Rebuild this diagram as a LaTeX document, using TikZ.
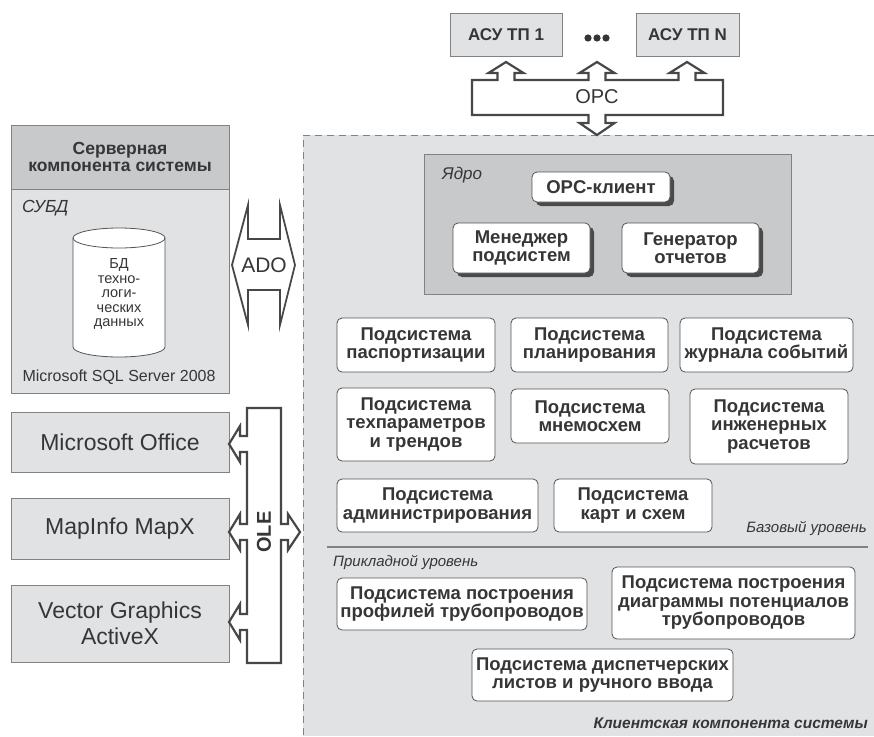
\documentclass[tikz,border=0pt]{standalone}
\usepackage{fontspec}
\setmainfont{Liberation Sans}
\usetikzlibrary{shadows}
\definecolor{ink}{HTML}{363636}
\definecolor{panelgray}{HTML}{E1E2E4}
\definecolor{coregray}{HTML}{C8C9CB}
\definecolor{edgegray}{HTML}{828282}
\definecolor{busgray}{HTML}{474747}
\definecolor{shadegray}{HTML}{4A4A4A}

\tikzset{
  subbox/.style={draw=ink!85, fill=white, rounded corners=5pt, align=center, text=ink,
    font=\fontsize{18.5}{18.5}\selectfont\bfseries, inner sep=0pt, line width=0.8pt},
  corebox/.style={subbox, drop shadow={shadow xshift=4pt, shadow yshift=-4pt, fill=shadegray, opacity=1}},
  graybox/.style={draw=edgegray, fill=panelgray, align=center, text=ink, inner sep=0pt, line width=0.9pt},
  appbox/.style={graybox, minimum width=218pt, font=\fontsize{23}{26}\selectfont},
  tag/.style={text=ink, font=\fontsize{15}{15}\selectfont\itshape, inner sep=0pt},
  bus/.style={draw=busgray, fill=white, line width=2.2pt, line join=miter},
}

\begin{document}
\begin{tikzpicture}[x=1pt,y=-1pt]
\useasboundingbox (0,0) rectangle (874,736);

% client panel
\fill[panelgray] (303,135) rectangle (874,736);
\draw[edgegray, line width=0.9pt, dash pattern=on 7pt off 5pt] (874,135) -- (303,135) -- (303,736);

% plants on top
\node[graybox, minimum width=112pt, minimum height=43pt, font=\fontsize{17}{18}\selectfont\bfseries] (asu1) at (506,34.5) {АСУ ТП 1};
\node[graybox, minimum width=103pt, minimum height=43pt, font=\fontsize{17}{18}\selectfont\bfseries] (asuN) at (687.5,34.5) {АСУ ТП N};
\fill[ink] (588,38) circle (3.6) (597,38) circle (3.6) (606,38) circle (3.6);

% OPC bus
\path[bus] (472,80) -- (497.5,80) -- (497.5,73) -- (488.5,73) -- (506,62) -- (523.5,73) -- (514.5,73) -- (514.5,80)
  -- (588.5,80) -- (588.5,73) -- (579.5,73) -- (597,62) -- (614.5,73) -- (605.5,73) -- (605.5,80)
  -- (678.5,80) -- (678.5,73) -- (669.5,73) -- (687,62) -- (704.5,73) -- (695.5,73) -- (695.5,80)
  -- (723,80) -- (723,115) -- (605.5,115) -- (605.5,123) -- (614.5,123) -- (597,135) -- (579.5,123)
  -- (588.5,123) -- (588.5,115) -- (472,115) -- cycle;
\node[text=ink, font=\fontsize{20}{20}\selectfont] (opc) at (597,97) {OPC};

% server side
\node[graybox, fill=coregray, minimum width=218pt, minimum height=64pt, font=\fontsize{17.5}{17.5}\selectfont\bfseries] (srvhead) at (120,157) {Серверная\\компонента системы};
\node[graybox, minimum width=218pt, minimum height=204pt] (srvbody) at (120,291) {};
\node[tag, anchor=west, font=\fontsize{17.5}{18}\selectfont\itshape] (dbms) at (22,208) {СУБД};
\filldraw[fill=white, draw=ink!85, line width=0.8pt] (73,238) -- (73,347) arc[start angle=180, end angle=0, x radius=46, y radius=10]
  -- (165,238) arc[start angle=0, end angle=-180, x radius=46, y radius=10] -- cycle;
\draw[ink!85, line width=0.8pt] (165,238) arc[start angle=0, end angle=180, x radius=46, y radius=10];
\node[text=ink, align=center, font=\fontsize{14.5}{14.5}\selectfont] (dbdata) at (119,294) {БД\\техно-\\логи-\\ческих\\данных};
\node[text=ink, font=\fontsize{16}{16}\selectfont] (sqlsrv) at (119,377) {Microsoft SQL Server 2008};

% ADO link
\path[bus, line width=1.8pt] (232,265) -- (248,205) -- (248,239) -- (280,239) -- (280,205) -- (295,265)
  -- (280,325) -- (280,290) -- (248,290) -- (248,325) -- cycle;
\node[text=ink, font=\fontsize{21}{21}\selectfont] (ado) at (264,265) {ADO};

% external components
\node[appbox, minimum height=60pt] (msoff) at (120,442) {Microsoft Office};
\node[appbox, minimum height=61pt] (mapx) at (120,528.5) {MapInfo MapX};
\node[appbox, minimum height=77pt] (vgax) at (120,623.5) {Vector Graphics\\ActiveX};

% OLE bus
\path[bus] (247,408) -- (281,408) -- (281,524) -- (288,524) -- (288,514) -- (300,532) -- (288,550) -- (288,540)
  -- (281,540) -- (281,663) -- (247,663) -- (247,630) -- (240,630) -- (240,640) -- (229,622) -- (240,604)
  -- (240,614) -- (247,614) -- (247,540) -- (240,540) -- (240,550) -- (229,532) -- (240,514) -- (240,524)
  -- (247,524) -- (247,452) -- (240,452) -- (240,462) -- (229,444) -- (240,426) -- (240,436) -- (247,436) -- cycle;
\node[text=ink, rotate=90, font=\fontsize{20}{20}\selectfont\bfseries] (ole) at (264,532) {OLE};

% core
\node[graybox, fill=coregray, minimum width=367pt, minimum height=140pt] (core) at (607.5,224) {};
\node[tag, anchor=west, font=\fontsize{17}{17}\selectfont\itshape] (coretag) at (442,175) {Ядро};
\node[corebox, minimum width=138pt, minimum height=30pt] (opcc) at (601,187) {OPC-клиент};
\node[corebox, minimum width=137pt, minimum height=50pt] (mgr) at (521.5,248) {Менеджер\\подсистем};
\node[corebox, minimum width=137pt, minimum height=50pt] (gen) at (690.5,248) {Генератор\\отчетов};

% base level
\node[subbox, minimum width=158pt, minimum height=54pt] (pasp) at (416,345) {Подсистема\\паспортизации};
\node[subbox, minimum width=157pt, minimum height=54pt] (plan) at (589.5,345) {Подсистема\\планирования};
\node[subbox, minimum width=173pt, minimum height=54pt] (jour) at (766.5,345) {Подсистема\\журнала событий};
\node[subbox, minimum width=158pt, minimum height=73pt] (tech) at (416,424.5) {Подсистема\\техпараметров\\и трендов};
\node[subbox, minimum width=158pt, minimum height=54pt] (mnem) at (590,416) {Подсистема\\мнемосхем};
\node[subbox, minimum width=158pt, minimum height=75pt] (eng) at (769,426.5) {Подсистема\\инженерных\\расчетов};
\node[subbox, minimum width=201pt, minimum height=53pt] (adm) at (437.5,505.5) {Подсистема\\администрирования};
\node[subbox, minimum width=158pt, minimum height=53pt] (kart) at (633,505.5) {Подсистема\\карт и схем};
\node[tag, anchor=east] (basetag) at (867,529) {Базовый уровень};
\draw[edgegray, line width=1.2pt] (327,547) -- (868,547);

% applied level
\node[tag, anchor=west] (apptag) at (333,563) {Прикладной уровень};
\node[subbox, minimum width=250pt, minimum height=52pt] (prof) at (462,604) {Подсистема построения\\профилей трубопроводов};
\node[subbox, minimum width=243pt, minimum height=72pt] (diag) at (733.5,603) {Подсистема построения\\диаграммы потенциалов\\трубопроводов};
\node[subbox, minimum width=261pt, minimum height=52pt] (disp) at (602.5,675) {Подсистема диспетчерских\\листов и ручного ввода};
\node[tag, anchor=east, font=\fontsize{15.5}{16}\selectfont\bfseries\itshape] (clienttag) at (868,723) {Клиентская компонента системы};
\end{tikzpicture}
\end{document}
